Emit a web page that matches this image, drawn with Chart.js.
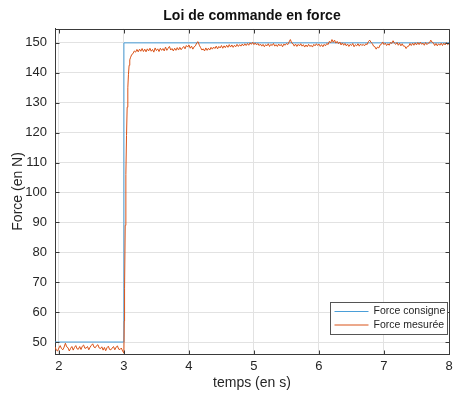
<!DOCTYPE html>
<html>
<head>
<meta charset="utf-8">
<script src="https://cdn.jsdelivr.net/npm/chart.js@4"></script>
<style>
  html, body { margin: 0; padding: 0; background: #fff; }
  #wrap { width: 464px; height: 396px; }
</style>
</head>
<body>
<div id="wrap"><canvas id="force-chart" width="464" height="396"></canvas></div>
<script>
// consigne : echelon 50 N -> 150 N a t = 3 s
var consigneTemps = [1.94, 3, 3, 8];
var consigneForce = [50, 50, 150, 150];

// mesure avant l'echelon, un point toutes les 20 ms depuis 1.94 s
var avantDebut = 1.94;
var pasMesure = 0.02;
var mesureAvant = [
    48.4, 47.3, 47.0, 48.0, 48.8, 47.8, 47.4, 48.3, 49.6, 48.4,
    48.1, 47.0, 47.9, 48.5, 47.3, 48.2, 48.8, 47.7, 47.6, 48.5,
    47.5, 48.6, 49.0, 47.9, 48.0, 48.5, 47.4, 48.3, 48.9, 49.4,
    48.3, 48.1, 48.8, 49.1, 48.0, 47.8, 48.4, 47.3, 48.2, 47.1,
    48.1, 48.6, 47.5, 47.4, 48.0, 48.5, 47.4, 48.3, 48.7, 47.6,
    47.5, 48.0, 47.0
];

// montee rapide juste apres l'echelon
var monteeTemps = [3.00, 3.005, 3.01, 3.02, 3.03, 3.04, 3.05, 3.06, 3.07, 3.08, 3.09];
var monteeForce = [46.3, 57, 68, 89, 106, 119, 128.5, 135, 139.5, 142.5, 144.3];

// mesure apres la montee, toutes les 20 ms depuis 3.10 s
var apresDebut = 3.10;
var mesureApres = [
    145.0, 146.1, 146.4, 147.3, 146.9,  147.8, 147.0, 147.9, 147.2, 148.1,
    147.1, 147.9, 147.0, 148.0, 147.3,  148.2, 147.2, 147.8, 146.9, 148.3,
    147.4, 148.0, 147.1, 148.2, 147.5,  148.1, 147.3, 148.6, 147.5, 148.2,
    148.8, 147.6, 148.1, 147.3, 148.2,  147.5, 148.4, 147.6, 148.5, 147.7,
    148.3, 148.8, 148.0, 149.1, 148.6,  149.3, 148.2, 148.9, 147.9, 148.7,
    149.0, 150.0, 150.4, 149.2, 148.4,  147.6, 148.0, 147.3, 148.3, 147.5,
    148.2, 147.6, 148.5, 147.9, 148.6,  148.1, 148.9, 148.0, 148.8, 148.3,
    149.1, 148.2, 149.0, 148.4, 149.2,  148.5, 149.4, 148.6, 149.3, 148.5,
    149.2, 148.7, 149.5, 148.8, 149.4,  148.9, 149.6, 149.0, 149.7, 149.1,
    149.8, 149.2, 150.0, 149.5, 150.2,  149.4, 150.0, 149.3, 149.8, 149.1,
    149.6, 148.9, 149.5, 148.7, 149.4,  149.0, 149.7, 148.8, 149.5, 149.1,
    149.8, 148.9, 149.4, 148.8, 149.6,  149.0, 149.5, 148.7, 149.6, 149.2,
    149.8, 149.4, 150.3, 151.1, 150.0,  149.7, 148.9, 149.6, 148.8, 149.5,
    149.0, 149.7, 148.9, 149.4, 148.6,  149.3, 148.7, 149.5, 148.8, 149.2,
    148.6, 149.5, 149.0, 149.7, 149.1,  149.6, 148.8, 149.4, 148.7, 149.5,
    149.0, 149.8, 149.4, 150.5, 150.0,  151.1, 150.2, 150.9, 149.9, 150.5,
    149.7, 150.3, 149.3, 150.0, 149.2,  149.8, 149.0, 149.6, 148.8, 149.5,
    149.1, 149.8, 148.7, 149.4, 149.0,  149.7, 148.9, 149.6, 149.1, 149.5,
    149.0, 149.7, 149.4, 150.4, 150.9,  150.2, 149.8, 148.9, 148.7, 147.9,
    148.6, 148.3, 149.3, 149.5, 150.3,  149.4, 149.9, 149.1, 149.7, 149.2,
    150.1, 149.8, 150.7, 149.9, 149.5,  150.1, 149.2, 149.9, 149.0, 149.7,
    148.9, 148.9, 148.1, 148.8, 148.9,  149.8, 149.1, 149.9, 149.2, 150.0,
    149.3, 150.1, 149.4, 150.2, 149.5,  149.9, 149.2, 150.1, 149.4, 149.9,
    150.0, 150.9, 150.2, 150.0, 149.1,  149.8, 149.0, 149.7, 149.2, 149.9,
    149.1, 149.9, 149.3, 150.1, 149.4,  149.8
];

var xTicks = [2, 3, 4, 5, 6, 7, 8];
var yTicks = [50, 60, 70, 80, 90, 100, 110, 120, 130, 140, 150];

var xMin = 1.94, xMax = 8;
var yMin = 46, yMax = 154.7;

var couleurs = {
    consigne: '#4a9ed8',
    mesure: '#d95319',
    grille: '#e2e2e2',
    axe: '#3a3a3a',
    texte: '#262626'
};

var police = "'Liberation Sans', Arial, sans-serif";

// assemble les points (x, y) de la mesure
var mesurePoints = [];
mesureAvant.forEach(function (v, i) {
    mesurePoints.push({ x: avantDebut + i * pasMesure, y: v });
});
monteeTemps.forEach(function (t, i) {
    mesurePoints.push({ x: t, y: monteeForce[i] });
});
mesureApres.forEach(function (v, i) {
    mesurePoints.push({ x: apresDebut + i * pasMesure, y: v });
});

var consignePoints = consigneTemps.map(function (t, i) {
    return { x: t, y: consigneForce[i] };
});

// cadre complet + graduations vers l'interieur, puis legende en bas a droite
var cadreMatlab = {
    id: 'cadreMatlab',
    afterDraw: function (chart) {
        var ctx = chart.ctx;
        var a = chart.chartArea;
        var sx = chart.scales.x, sy = chart.scales.y;
        var L = Math.round(a.left) + 0.5, R = Math.round(a.right) + 0.5;
        var T = Math.round(a.top) + 0.5, B = Math.round(a.bottom) + 0.5;
        var tl = 4;

        ctx.save();
        ctx.strokeStyle = couleurs.axe;
        ctx.lineWidth = 1;
        ctx.beginPath();
        ctx.moveTo(L, T); ctx.lineTo(R, T); ctx.lineTo(R, B);
        xTicks.forEach(function (v) {
            var px = Math.round(sx.getPixelForValue(v)) + 0.5;
            ctx.moveTo(px, B); ctx.lineTo(px, B - tl);
            ctx.moveTo(px, T); ctx.lineTo(px, T + tl);
        });
        yTicks.forEach(function (v) {
            var py = Math.round(sy.getPixelForValue(v)) + 0.5;
            ctx.moveTo(L, py); ctx.lineTo(L + tl, py);
            ctx.moveTo(R, py); ctx.lineTo(R - tl, py);
        });
        ctx.stroke();

        // legende
        var bx = 330.5, by = 302.5, bw = 117, bh = 32;
        ctx.fillStyle = '#fff';
        ctx.fillRect(bx, by, bw, bh);
        ctx.strokeStyle = '#555';
        ctx.strokeRect(bx, by, bw, bh);
        ctx.font = '10.5px ' + police;
        ctx.textBaseline = 'middle';
        ctx.textAlign = 'left';
        chart.data.datasets.forEach(function (ds, i) {
            var ly = by + 9 + i * 13.5;
            ctx.strokeStyle = ds.borderColor;
            ctx.lineWidth = 1;
            ctx.beginPath();
            ctx.moveTo(bx + 4, ly);
            ctx.lineTo(bx + 38, ly);
            ctx.stroke();
            ctx.fillStyle = couleurs.texte;
            ctx.fillText(ds.label, bx + 43, ly);
        });
        ctx.restore();
    }
};

var ctx = document.getElementById('force-chart').getContext('2d');
new Chart(ctx, {
    type: 'line',
    data: {
        datasets: [{
            label: 'Force consigne',
            data: consignePoints,
            borderColor: couleurs.consigne,
            borderWidth: 1,
            pointRadius: 0,
            tension: 0,
            order: 2
        }, {
            label: 'Force mesurée',
            data: mesurePoints,
            borderColor: couleurs.mesure,
            borderWidth: 1,
            pointRadius: 0,
            tension: 0,
            order: 1
        }]
    },
    plugins: [cadreMatlab],
    options: {
        responsive: false,
        animation: false,
        events: [],
        layout: {
            padding: { top: 0, right: 15, bottom: 0, left: 0 }
        },
        plugins: {
            legend: { display: false },
            tooltip: { enabled: false },
            title: {
                display: true,
                text: 'Loi de commande en force',
                fullSize: false,
                color: '#111',
                font: { family: police, size: 14, weight: 'bold' },
                padding: { top: 8, bottom: 4 }
            }
        },
        scales: {
            x: {
                type: 'linear',
                min: xMin,
                max: xMax,
                afterBuildTicks: function (scale) {
                    scale.ticks = xTicks.map(function (v) { return { value: v }; });
                },
                afterFit: function (scale) { scale.height = 42; },
                grid: { color: couleurs.grille, drawTicks: false },
                border: { color: couleurs.axe },
                ticks: {
                    color: couleurs.texte,
                    font: { family: police, size: 13 },
                    padding: 5,
                    maxRotation: 0
                },
                title: {
                    display: true,
                    text: 'temps (en s)',
                    color: couleurs.texte,
                    font: { family: police, size: 14 },
                    padding: { top: 0, bottom: 4 }
                }
            },
            y: {
                type: 'linear',
                min: yMin,
                max: yMax,
                afterBuildTicks: function (scale) {
                    scale.ticks = yTicks.map(function (v) { return { value: v }; });
                },
                afterFit: function (scale) { scale.width = 55; },
                grid: { color: couleurs.grille, drawTicks: false },
                border: { color: couleurs.axe },
                ticks: {
                    color: couleurs.texte,
                    font: { family: police, size: 13 },
                    padding: 8
                },
                title: {
                    display: true,
                    text: 'Force (en N)',
                    color: couleurs.texte,
                    font: { family: police, size: 14 },
                    padding: { top: 10, bottom: 0 }
                }
            }
        }
    }
});
</script>
</body>
</html>
